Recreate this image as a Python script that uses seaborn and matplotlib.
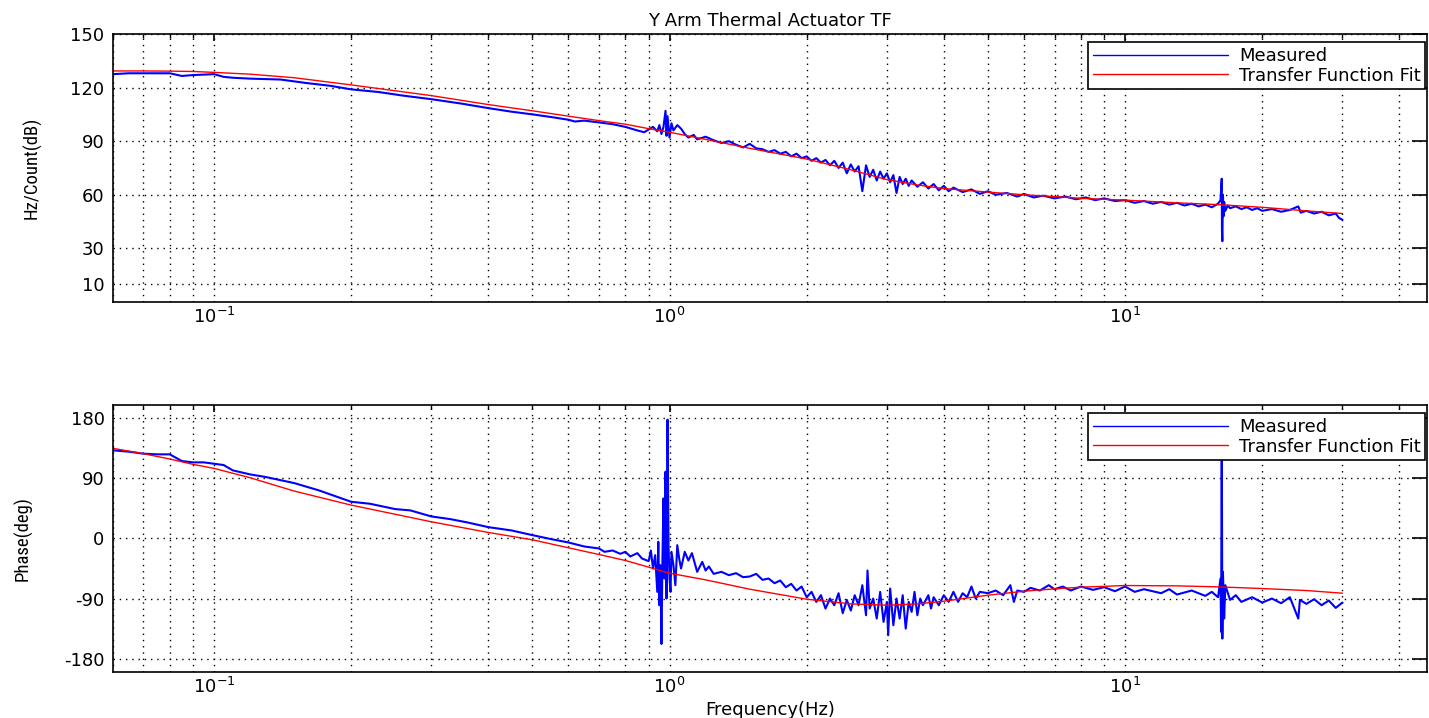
import seaborn as sns
import matplotlib.pyplot as plt
from matplotlib import font_manager
from matplotlib.ticker import LogLocator, NullFormatter

# measured magnitude (Hz, dB)
freq_mag = [0.06, 0.065, 0.07, 0.08, 0.085, 0.09, 0.1, 0.105, 0.11, 0.12, 0.14, 0.16, 0.18, 0.2,
            0.23, 0.26, 0.3, 0.35, 0.4, 0.45, 0.5, 0.55, 0.6, 0.62, 0.65, 0.7, 0.75, 0.8, 0.85,
            0.88, 0.9, 0.92, 0.94, 0.95, 0.96, 0.97, 0.98, 0.985, 0.99, 1.0, 1.01, 1.02, 1.04,
            1.06, 1.08, 1.1, 1.13, 1.15, 1.2, 1.25, 1.3, 1.35, 1.4, 1.45, 1.5, 1.55, 1.6, 1.65,
            1.7, 1.75, 1.8, 1.85, 1.9, 1.95, 2.0, 2.05, 2.1, 2.15, 2.2, 2.25, 2.3, 2.35, 2.4,
            2.45, 2.5, 2.55, 2.6, 2.65, 2.7, 2.75, 2.8, 2.85, 2.9, 2.95, 3.0, 3.05, 3.1, 3.15,
            3.2, 3.25, 3.3, 3.35, 3.4, 3.5, 3.6, 3.7, 3.8, 3.9, 4.0, 4.1, 4.2, 4.4, 4.6, 4.8,
            5.0, 5.2, 5.5, 5.8, 6.0, 6.3, 6.6, 7.0, 7.4, 7.8, 8.2, 8.6, 9.0, 9.5, 10, 10.5, 11,
            11.5, 12, 12.5, 13, 13.5, 14, 14.5, 15, 15.5, 16, 16.2, 16.3, 16.32, 16.35, 16.4,
            16.45, 16.5, 16.6, 16.8, 17, 17.5, 18, 18.5, 19, 19.5, 20, 21, 22, 23, 24, 24.3, 25,
            26, 27, 28, 29, 29.5, 30]
mag_measured = [127.5, 128, 128, 128, 126.5, 127, 127.5, 126, 125.5, 125, 124.5, 122.5, 121, 119,
                117.5, 115.5, 113.5, 111, 108.5, 106.5, 105, 103.5, 102, 101, 101.5, 100.5, 99.5,
                98, 96, 95, 96.5, 98, 95.5, 99, 94, 98, 107, 93, 104, 92, 100, 96, 99, 97, 94, 92,
                93.5, 91, 92.5, 90.5, 89, 90, 88, 86.5, 88.5, 86, 85.5, 84, 85, 83, 84, 81.5, 83,
                80.5, 81.5, 79, 80.5, 78, 79.5, 76.5, 79, 75, 78, 72, 77, 73, 76, 62, 76.5, 70,
                74, 68, 73, 69, 72, 67, 71, 61, 70, 66, 69, 65, 68, 64.5, 67, 63.5, 66, 62.5, 65,
                62, 64, 61.5, 63, 60.5, 62, 60, 61, 59, 60.5, 58.5, 59.5, 58, 59, 57.5, 58.5, 57,
                58, 56.5, 57, 55.5, 56.5, 55, 56, 54.5, 55.5, 54, 55, 53.5, 54.5, 53, 55, 57, 69,
                40, 34, 60, 48, 56, 51, 54, 52.5, 53.5, 52, 53, 51.5, 52.5, 51, 52, 50.5, 51.5,
                53.5, 50, 51, 49.5, 50.5, 48.5, 49.5, 47, 46]

# measured phase (Hz, deg)
freq_phase = [0.06, 0.065, 0.07, 0.075, 0.08, 0.085, 0.09, 0.095, 0.1, 0.105, 0.11, 0.12, 0.13,
              0.15, 0.17, 0.2, 0.22, 0.25, 0.27, 0.3, 0.33, 0.36, 0.4, 0.45, 0.5, 0.55, 0.6,
              0.65, 0.7, 0.72, 0.75, 0.78, 0.8, 0.82, 0.85, 0.87, 0.9, 0.91, 0.92, 0.93, 0.94,
              0.945, 0.95, 0.955, 0.96, 0.965, 0.97, 0.975, 0.98, 0.985, 0.99, 0.995, 1.0, 1.005,
              1.01, 1.02, 1.03, 1.04, 1.05, 1.06, 1.08, 1.1, 1.12, 1.15, 1.18, 1.2, 1.22, 1.25,
              1.3, 1.35, 1.4, 1.45, 1.5, 1.55, 1.6, 1.65, 1.7, 1.75, 1.8, 1.85, 1.9, 1.95, 2.0,
              2.05, 2.1, 2.15, 2.2, 2.25, 2.3, 2.35, 2.4, 2.45, 2.5, 2.55, 2.6, 2.65, 2.7, 2.72,
              2.75, 2.8, 2.85, 2.9, 2.95, 3.0, 3.02, 3.05, 3.1, 3.15, 3.2, 3.25, 3.3, 3.35, 3.4,
              3.45, 3.5, 3.55, 3.6, 3.7, 3.75, 3.8, 3.9, 4.0, 4.1, 4.2, 4.3, 4.4, 4.5, 4.6, 4.7,
              4.8, 5.0, 5.2, 5.4, 5.6, 5.7, 5.8, 6.0, 6.2, 6.5, 6.8, 7.0, 7.3, 7.6, 8.0, 8.5,
              9.0, 9.5, 10, 10.5, 11, 12, 12.5, 13, 14, 15, 15.5, 16, 16.2, 16.25, 16.3, 16.35,
              16.4, 16.5, 16.6, 17, 17.5, 18, 19, 20, 21, 22, 23, 24, 24.2, 25, 26, 27, 28, 29, 30]
phase_measured = [132, 130, 127, 126, 126, 116, 114, 114, 112, 110, 102, 96, 92, 83, 72, 55, 52,
                  44, 42, 33, 29, 24, 17, 12, 5, -1, -6, -12, -15, -20, -18, -23, -20, -27, -22,
                  -30, -34, -18, -45, -25, -80, -5, -100, -40, -158, -30, 60, -60, 100, -90, 178,
                  -10, -60, -80, -20, -40, -70, -10, -30, -45, -20, -33, -22, -50, -35, -48, -42,
                  -53, -50, -55, -52, -58, -57, -53, -62, -60, -67, -63, -73, -68, -78, -72, -88,
                  -80, -95, -85, -105, -90, -100, -82, -112, -92, -108, -85, -100, -70, -115, -48,
                  -105, -90, -120, -80, -125, -95, -145, -75, -130, -90, -120, -85, -135, -95, -110,
                  -80, -115, -90, -100, -85, -105, -88, -100, -85, -95, -80, -95, -82, -88, -72,
                  -90, -80, -82, -78, -85, -70, -95, -78, -80, -74, -78, -70, -76, -72, -78, -72,
                  -77, -73, -79, -72, -80, -76, -82, -76, -84, -78, -86, -80, -88, -60, -140, 178,
                  -150, -50, -120, -70, -92, -85, -95, -88, -96, -90, -97, -88, -120, -92, -98,
                  -91, -100, -93, -104, -96]

# transfer function fit
freq_fit = [0.06, 0.07, 0.08, 0.09, 0.1, 0.12, 0.15, 0.2, 0.3, 0.4, 0.5, 0.6, 0.7, 0.8, 0.9,
            1.0, 1.2, 1.5, 2.0, 2.5, 3.0, 3.5, 4.0, 5.0, 6.0, 7.0, 8.0, 10, 13, 16, 20, 25, 30]
mag_fit = [129.3, 129.3, 129.2, 129, 128.5, 127.5, 125.5, 121.5, 115.5, 110.5, 107, 104, 101.5,
           99.5, 97, 95, 91, 86, 80, 74, 68.5, 65.5, 63.5, 61.5, 60, 59, 58, 57, 55.5, 54.5, 53,
           51, 49.5]
phase_fit = [135, 127, 119, 111, 105, 91, 71, 50, 25, 9, -2, -14, -24, -33, -43, -52, -62, -76,
             -91, -98, -100, -98, -94, -85, -79, -75.5, -73, -70.5, -71, -72.5, -75, -78, -82]

legend_labels = ['Measured', 'Transfer Function Fit']

sns.set_style('white')
plt.rcParams['font.family'] = ['DejaVu Sans']
plt.rcParams['font.size'] = 12
plt.rcParams['axes.unicode_minus'] = False
plt.rcParams['text.color'] = 'black'
plt.rcParams['xtick.color'] = 'black'
plt.rcParams['ytick.color'] = 'black'
plt.rcParams['axes.labelcolor'] = 'black'

# a narrow face for the y labels, whichever is installed
ttf = font_manager.fontManager.ttflist
names = {f.name for f in ttf}
if 'Roboto Condensed' in names:
    ylab_font = dict(family='Roboto Condensed', fontsize=13.5)
elif any(f.name == 'DejaVu Sans' and f.stretch == 'condensed' for f in ttf):
    ylab_font = dict(family='DejaVu Sans', fontstretch='condensed', fontsize=12)
elif 'Liberation Sans Narrow' in names:
    ylab_font = dict(family='Liberation Sans Narrow', fontsize=13.5)
else:
    ylab_font = dict(family='Roboto', fontsize=12)

grid_ls = (0, (1, 3.5))

fig = plt.figure(figsize=(14.29, 7.18), dpi=100)
ax1 = fig.add_axes([0.079, 0.5794, 0.9196, 0.3733])
ax2 = fig.add_axes([0.079, 0.0641, 0.9196, 0.3719])

sns.lineplot(x=freq_mag, y=mag_measured, ax=ax1, color='blue', lw=1.5,
             estimator=None, sort=False, label=legend_labels[0])
sns.lineplot(x=freq_fit, y=mag_fit, ax=ax1, color='red', lw=1.0,
             estimator=None, sort=False, label=legend_labels[1])
sns.lineplot(x=freq_phase, y=phase_measured, ax=ax2, color='blue', lw=1.5,
             estimator=None, sort=False, label=legend_labels[0])
sns.lineplot(x=freq_fit, y=phase_fit, ax=ax2, color='red', lw=1.0,
             estimator=None, sort=False, label=legend_labels[1])

for ax in (ax1, ax2):
    ax.set_xscale('log')
    ax.set_xlim(0.06, 46)
    ax.xaxis.set_major_locator(LogLocator(base=10))
    ax.xaxis.set_minor_locator(LogLocator(base=10, subs=range(2, 10)))
    ax.xaxis.set_minor_formatter(NullFormatter())
    ax.grid(True, which='major', linestyle=grid_ls, color='black', linewidth=1.0)
    ax.grid(True, which='minor', axis='x', linestyle=grid_ls, color='black', linewidth=1.0)
    ax.tick_params(which='both', direction='in', top=True, right=True, labelsize=13)
    ax.tick_params(axis='y', which='major', length=11, width=1.2, pad=6)
    ax.tick_params(axis='x', which='major', length=5, width=1.2)
    ax.tick_params(axis='x', which='minor', length=3, width=1.0)
    for s in ax.spines.values():
        s.set_linewidth(1.2)
        s.set_color('black')
    ax.set_xlabel('')
    leg = ax.legend(loc='upper right', bbox_to_anchor=(1.0, 0.975), fontsize=13,
                    handlelength=7.5, fancybox=False, framealpha=1, edgecolor='black',
                    borderpad=0.25, labelspacing=0.1, handletextpad=0.6, borderaxespad=0.1)
    leg.get_frame().set_linewidth(1.2)
    for line in leg.get_lines():
        line.set_linewidth(1.0)

ax1.set_ylim(0, 150)
ax1.set_yticks([10, 30, 60, 90, 120, 150])
ax1.set_ylabel('Hz/Count(dB)', **ylab_font)
ax1.yaxis.set_label_coords(-0.054, 0.5)
ax1.set_title('Y Arm Thermal Actuator TF', fontsize=13, pad=6)

ax2.set_ylim(-200, 200)
ax2.set_yticks([-180, -90, 0, 90, 180])
ax2.set_ylabel('Phase(deg)', **ylab_font)
ax2.yaxis.set_label_coords(-0.061, 0.5)
ax2.set_xlabel('Frequency(Hz)', fontsize=13, labelpad=3)

fig.savefig('out.png', dpi=100)
